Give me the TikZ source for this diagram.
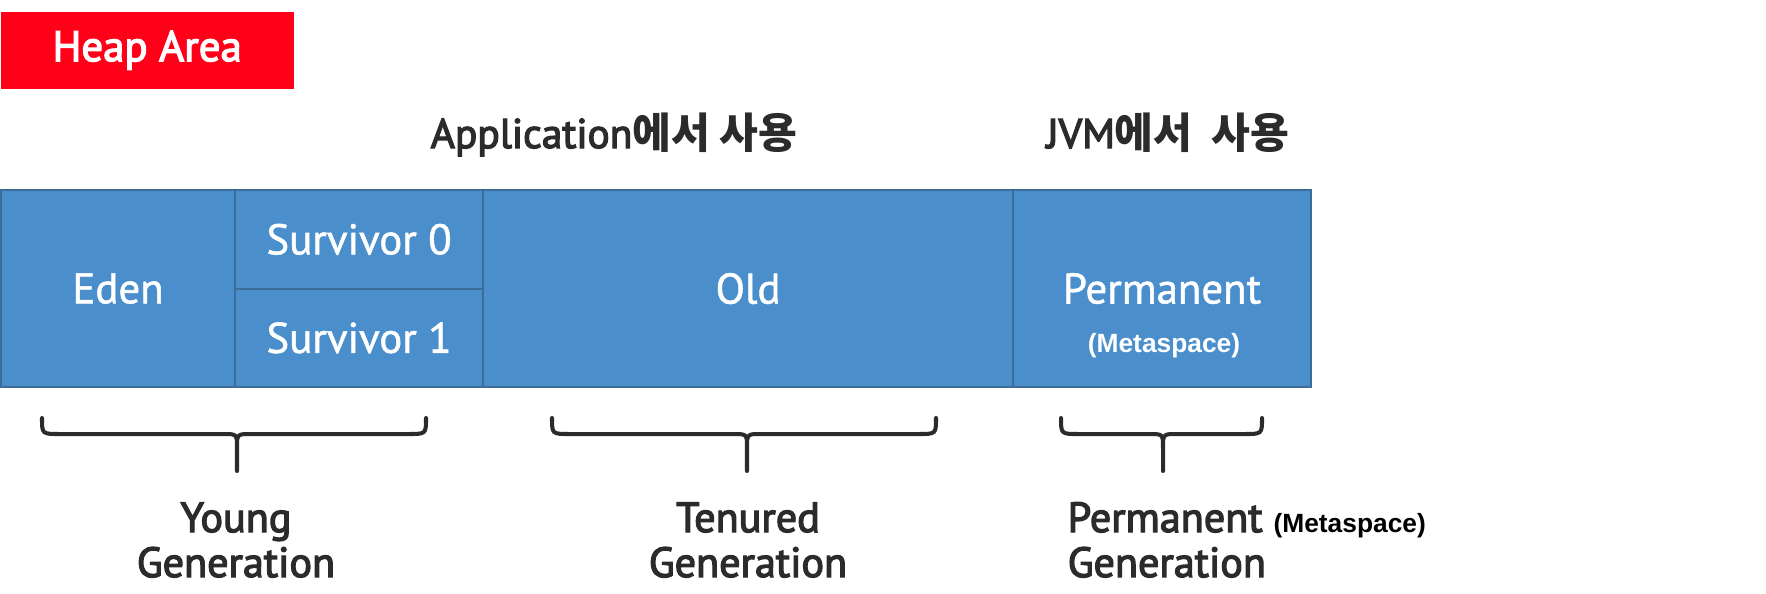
\documentclass[tikz,border=0pt]{standalone}
\usepackage{fontspec}
\setmainfont{PT Sans}
\newfontfamily\semib{PT Sans}[FakeBold=3]
\newfontfamily\medw{PT Sans}[FakeBold=1.2]
\newfontfamily\kr{Noto Sans CJK KR}
\newfontfamily\arial{Liberation Sans}
\definecolor{heapred}{HTML}{FF0018}
\definecolor{cellblue}{HTML}{4A8FCC}
\definecolor{cellline}{HTML}{3C6C98}
\definecolor{ink}{HTML}{2B2B2B}
\newcommand\genbrace[3]{%
  \draw[bracestyle] (#1,418) .. controls (#1,434) .. (#1+18,434) -- (#3-14,434) .. controls (#3,434) .. (#3,448) -- (#3,471)
    (#2,418) .. controls (#2,434) .. (#2-18,434) -- (#3+14,434) .. controls (#3,434) .. (#3,448);}
\begin{document}
\begin{tikzpicture}[x=0.1mm,y=-0.1mm,
  cell/.style={draw=cellline, line width=0.6pt, fill=cellblue, inner sep=0pt, anchor=north west,
    text=white, font=\medw\fontsize{12.2}{14}\selectfont},
  smallwhite/.style={text=white, inner sep=0pt, anchor=base, font=\arial\bfseries\fontsize{7.5}{9}\selectfont},
  title/.style={text=ink, inner sep=0pt, anchor=base, font=\semib\fontsize{11.8}{15}\selectfont},
  genlabel/.style={text=ink, inner sep=0pt, font=\semib\fontsize{12}{12.8}\selectfont},
  bracestyle/.style={draw=ink, line width=1.15pt, line cap=round, line join=round}]
\useasboundingbox (0,0) rectangle (1766,593);
% heap label
\node[fill=heapred, text=white, inner sep=0pt, minimum width=29.3mm, minimum height=7.7mm, anchor=north west,
  font=\semib\fontsize{12.2}{14}\selectfont] (heap) at (0,11) {Heap Area};
% titles
\node[title] (app) at (614,148) {Application{\kr\bfseries\fontsize{12}{15}\selectfont 에서 사용}};
\node[title] (jvm) at (1168,148) {JVM{\kr\bfseries\fontsize{12}{15}\selectfont 에서\ \ 사용}};
% cells
\node[cell, minimum width=23.4mm, minimum height=19.7mm] (eden) at (0,189) {Eden};
\node[cell, minimum width=24.8mm, minimum height=9.85mm] (s0) at (234,189) {Survivor 0};
\node[cell, minimum width=24.8mm, minimum height=9.85mm] (s1) at (234,287.5) {Survivor 1};
\node[cell, minimum width=53mm, minimum height=19.7mm] (old) at (482,189) {Old};
\node[cell, minimum width=29.8mm, minimum height=19.7mm] (perm) at (1012,189) {Permanent};
\node[smallwhite] (permmeta) at (1164,352) {(Metaspace)};
% braces
\genbrace{42}{426}{237}
\genbrace{552}{936}{747}
\genbrace{1061}{1262}{1163}
% generation labels
\node[genlabel, align=center, anchor=base] (young) at (236,577) {Young\\Generation};
\node[genlabel, align=center, anchor=base] (tenured) at (748,577) {Tenured\\Generation};
\node[genlabel, align=left, anchor=base west] (permgen) at (1067,577)
  {Permanent\hspace{1.1mm}{\arial\bfseries\fontsize{7.5}{9}\selectfont\color{black}(Metaspace)}\\Generation};
\end{tikzpicture}
\end{document}
